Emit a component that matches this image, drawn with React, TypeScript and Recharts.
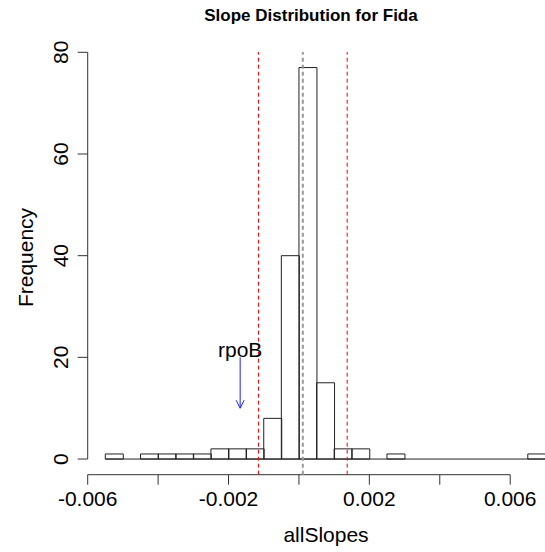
import React from 'react';
import { ComposedChart, Bar, XAxis, YAxis, ReferenceLine } from 'recharts';

// histogram bins (midpoints, width 0.0005) and their counts
const binMids = [
  -0.00525, -0.00475, -0.00425, -0.00375, -0.00325, -0.00275, -0.00225, -0.00175, -0.00125,
  -0.00075, -0.00025, 0.00025, 0.00075, 0.00125, 0.00175, 0.00225, 0.00275, 0.00325, 0.00375,
  0.00425, 0.00475, 0.00525, 0.00575, 0.00625, 0.00675,
];
const binCounts = [1, 0, 1, 1, 1, 1, 2, 2, 2, 8, 40, 77, 15, 2, 2, 0, 1, 0, 0, 0, 0, 0, 0, 0, 1];
const binRange = [-0.0055, 0.007];

const xTicks = [-0.006, -0.004, -0.002, 0, 0.002, 0.004, 0.006];
const xTickLabels = ['-0.006', '', '-0.002', '', '0.002', '', '0.006'];
const yTicks = [0, 20, 40, 60, 80];

const xDomain = [-0.006, 0.0075];
const yDomain = [-3.08, 80.08];

// vertical markers
const centerSlope = 0.00011;
const cutoffs = [-0.00115, 0.00137];

// annotation arrow
const geneName = 'rpoB';
const geneSlope = -0.00167;
const arrowFrom = 20;
const arrowTo = 10;

const data = binMids.map((mid, i) => ({ mid, count: binCounts[i] }));

const FONT = '"Liberation Sans", Arial, Helvetica, sans-serif';

const YTick = (props: any) => {
  const { x, y, payload } = props;
  const bx = x - 8;
  return (
    <text x={bx} y={y} transform={`rotate(-90, ${bx}, ${y})`} textAnchor="middle" fontSize={21} fill="#000" fontFamily={FONT}>
      {payload.value}
    </text>
  );
};

const ArrowShape = (props: any) => {
  const { x1, y1, x2, y2 } = props;
  return (
    <g>
      <line x1={x1} y1={y1} x2={x2} y2={y2} stroke="#2020ff" strokeWidth={1} />
      <polyline points={`${x2 - 4},${y2 - 8} ${x2},${y2} ${x2 + 4},${y2 - 8}`} fill="none" stroke="#2020ff" strokeWidth={1} />
      <text x={x1} y={y1} textAnchor="middle" fontSize={21} fill="#000" fontFamily={FONT}>
        {geneName}
      </text>
    </g>
  );
};

export default function App() {
  return (
    <div style={{ position: 'absolute', left: 0, top: 0, width: 545, height: 552, overflow: 'hidden', background: '#fff' }}>
      <ComposedChart
        width={563}
        height={552}
        data={data}
        margin={{ top: 51.9, right: 0, bottom: 0, left: 27.7 }}
        barCategoryGap={0}
        barGap={0}
      >
        <XAxis
          type="number"
          dataKey="mid"
          domain={xDomain}
          ticks={xTicks}
          tickFormatter={(v: number, i: number) => xTickLabels[xTicks.indexOf(v)] ?? ''}
          axisLine={false}
          tickSize={10}
          tickMargin={6}
          height={77.3}
          stroke="#333"
          tick={{ fontSize: 21, fill: '#000', fontFamily: FONT }}
          interval={0}
        />
        <YAxis
          type="number"
          domain={yDomain}
          ticks={yTicks}
          axisLine={false}
          tickSize={10}
          tickMargin={2}
          width={60}
          stroke="#333"
          tick={<YTick />}
          interval={0}
        />
        <Bar dataKey="count" fill="none" stroke="#222" strokeWidth={1} isAnimationActive={false} />
        <ReferenceLine
          segment={[{ x: binRange[0], y: 0 }, { x: binRange[1], y: 0 }]}
          stroke="#222"
          ifOverflow="visible"
        />
        <ReferenceLine
          segment={[{ x: xTicks[0], y: yDomain[0] }, { x: xTicks[xTicks.length - 1], y: yDomain[0] }]}
          stroke="#333"
          ifOverflow="visible"
        />
        <ReferenceLine
          segment={[{ x: xDomain[0], y: yTicks[0] }, { x: xDomain[0], y: yTicks[yTicks.length - 1] }]}
          stroke="#333"
          ifOverflow="visible"
        />
        {cutoffs.map((c) => (
          <ReferenceLine key={c} x={c} stroke="#ff0000" strokeDasharray="4 3" strokeWidth={1} />
        ))}
        <ReferenceLine x={centerSlope} stroke="#999" strokeDasharray="4 3" strokeWidth={2} />
        <ReferenceLine
          segment={[{ x: geneSlope, y: arrowFrom }, { x: geneSlope, y: arrowTo }]}
          shape={<ArrowShape />}
          ifOverflow="visible"
        />
      </ComposedChart>
      <svg width={545} height={552} style={{ position: 'absolute', left: 0, top: 0, pointerEvents: 'none' }}>
        <text x={311} y={21} textAnchor="middle" fontSize={17} fontWeight="bold" fill="#000" fontFamily={FONT}>
          Slope Distribution for Fida
        </text>
        <text x={326} y={542} textAnchor="middle" fontSize={21} fill="#000" fontFamily={FONT}>
          allSlopes
        </text>
        <text x={33} y={257.5} transform="rotate(-90, 33, 257.5)" textAnchor="middle" fontSize={21} fill="#000" fontFamily={FONT}>
          Frequency
        </text>
      </svg>
    </div>
  );
}
